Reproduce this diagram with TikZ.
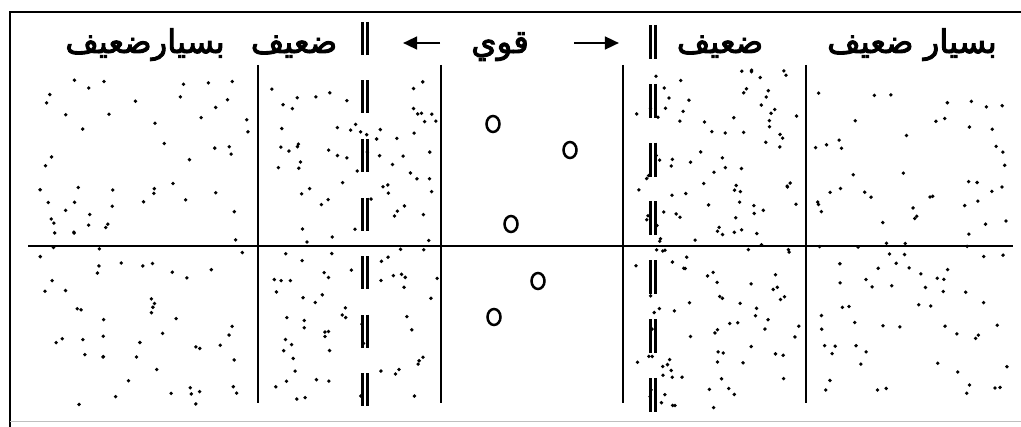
\documentclass[tikz,border=0pt]{standalone}
\usepackage{fontspec}
\TeXXeTstate=1
\newfontfamily\arabicfont[Script=Arabic,FakeBold=3]{DejaVu Sans}
\usetikzlibrary{arrows.meta}
\begin{document}
\begin{tikzpicture}[x=0.025cm,y=-0.025cm,
  lbl/.style={font=\arabicfont\fontsize{23}{26}\selectfont,inner sep=0pt,anchor=base},
  sep/.style={line width=1.4pt},
  twin/.style={line width=2.2pt,double distance=1.8pt},
  ring/.style={line width=1.8pt},
  arr/.style={line width=1.8pt,-{Triangle[length=10pt,width=9pt]}},
  pt/.style={fill=black}]
\useasboundingbox (0,0) rectangle (1021,427);
% frame
\draw[line width=1.4pt] (1030,12) -- (10,12) -- (10,430);
\draw[black!25,line width=0.6pt] (10,421) -- (1030,421);
% labels
\node[lbl] (vw1) at (145,53) {\beginR بسيارضعيف\endR};
\node[lbl] (w1) at (294,53) {\beginR ضعيف\endR};
\node[lbl] (st) at (500,53) {\beginR قوي\endR};
\node[lbl] (w2) at (720,53) {\beginR ضعيف\endR};
\node[lbl] (vw2) at (912,53) {\beginR بسيار ضعيف\endR};
\coordinate (l0) at (440,43); \coordinate (l1) at (403,43);
\coordinate (r0) at (574,43); \coordinate (r1) at (619,43);
\draw[arr] (l0) -- (l1);
\draw[arr] (r0) -- (r1);
% grid
\draw[line width=2pt] (28,246) -- (1013,246);
\foreach \x in {258,441,623,806}
  \draw[sep] (\x,65) -- (\x,403);
% screens
\foreach \k in {0,...,6} {
  \draw[twin] (365,{22+58.5*\k}) -- (365,{55+58.5*\k});
  \draw[twin] (653,{25+58.8*\k}) -- (653,{59+58.8*\k});
}
% strong
\foreach \p in {(493,124),(570,150),(511,224),(538,281),(494,317)}
  \draw[ring] \p ellipse [x radius=6.5, y radius=8];
% weak dots
\pgfmathsetseed{4242}
\foreach \i in {1,...,100}
  \fill[pt] ({40+210*rnd},{80+328*rnd}) circle (1.9);
\foreach \i in {1,...,120}
  \fill[pt] ({270+168*rnd},{80+322*rnd}) circle (1.9);
\foreach \i in {1,...,150}
  \fill[pt] ({632+170*rnd},{70+338*rnd}) circle (1.9);
\foreach \i in {1,...,100}
  \fill[pt] ({815+195*rnd},{90+305*rnd}) circle (1.9);
\end{tikzpicture}
\end{document}
